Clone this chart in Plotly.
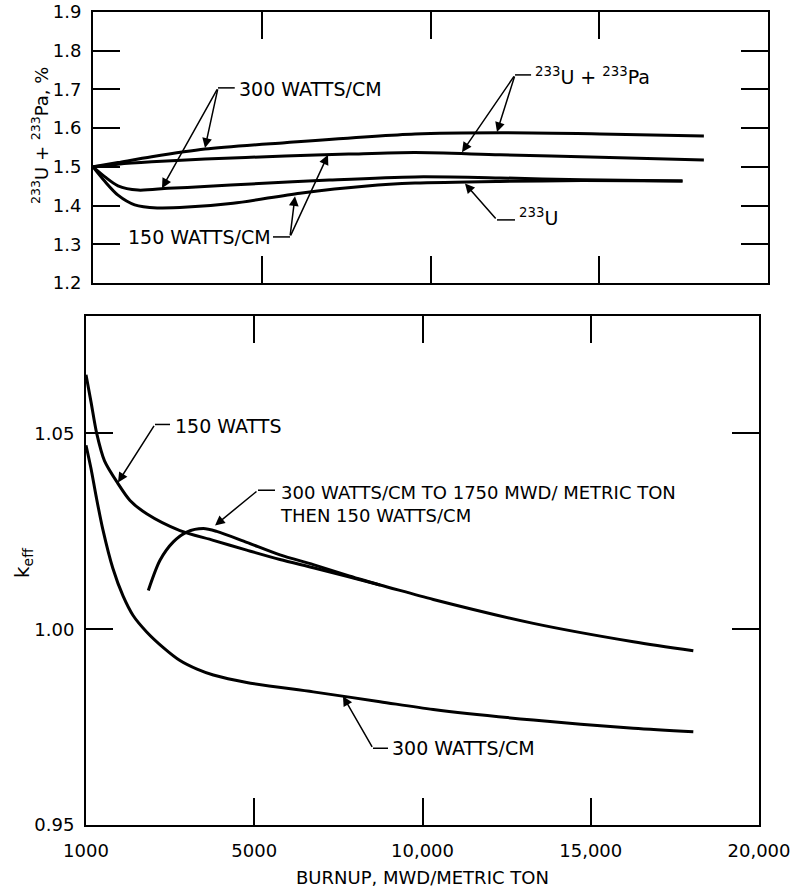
import plotly.graph_objects as go

# ---------------- data (burnup in MWD/metric ton) ----------------
# top panel: 233U + 233Pa, %
x_pa300 = [0, 740, 1739, 3318, 5689, 9541, 12059, 15022, 18100]
y_pa300 = [1.500, 1.511, 1.526, 1.546, 1.5625, 1.585, 1.588, 1.585, 1.580]

x_pa150 = [0, 740, 1739, 3318, 5689, 7575, 9541, 12059, 15022, 18100]
y_pa150 = [1.500, 1.507, 1.513, 1.520, 1.528, 1.533, 1.537, 1.531, 1.525, 1.518]

x_u300 = [0, 356, 740, 1333, 2222, 3300, 4689, 7000, 9541, 12059, 14500, 17467]
y_u300 = [1.500, 1.474, 1.451, 1.440, 1.4445, 1.449, 1.456, 1.466, 1.474, 1.4715, 1.4665, 1.4636]

x_u150 = [0, 356, 740, 1235, 1900, 2800, 4150, 6133, 8118, 9541, 12059, 14500, 17467]
y_u150 = [1.500, 1.462, 1.427, 1.402, 1.394, 1.396, 1.406, 1.432, 1.4506, 1.458, 1.4625, 1.4645, 1.4636]

# bottom panel: k_eff
x_k150 = [0, 150, 318, 550, 951, 1308, 1803, 2793, 3784, 4776, 5765, 6755, 7747, 8737, 10321, 13294, 16266, 18048]
y_k150 = [1.065, 1.058, 1.050, 1.043, 1.0372, 1.0329, 1.0295, 1.0252, 1.0227, 1.0202, 1.0178, 1.0157, 1.0135, 1.0113, 1.0076, 1.0015, 0.9968, 0.9945]

x_k300 = [0, 150, 300, 500, 800, 1100, 1400, 1803, 2298, 2793, 3300, 3784, 4776, 6755, 8737, 10321, 13294, 16266, 18048]
y_k300 = [1.047, 1.041, 1.034, 1.0255, 1.0155, 1.0085, 1.0035, 0.9993, 0.9953, 0.9920, 0.9898, 0.9883, 0.9864, 0.9840, 0.9815, 0.9795, 0.9768, 0.9747, 0.9738]

x_kswitch = [1852, 2199, 2595, 2992, 3487, 3883, 4776, 5765, 6755, 7747, 8737]
y_kswitch = [1.0099, 1.0176, 1.0223, 1.0248, 1.0257, 1.0250, 1.0222, 1.0190, 1.0165, 1.0138, 1.0113]

# ticks
x_tickvals = [0, 5000, 10000, 15000, 20000]
x_ticktext = ["1000", "5000", "10,000", "15,000", "20,000"]
top_tickvals = [1.2, 1.3, 1.4, 1.5, 1.6, 1.7, 1.8, 1.9]
top_ticktext = ["1.2", "1.3", "1.4", "1.5", "1.6", "1.7", "1.8", "1.9"]
bot_tickvals = [0.95, 1.00, 1.05]
bot_ticktext = ["0.95", "1.00", "1.05"]

# ---------------- figure ----------------
W, H = 803, 890
FONT = "DejaVu Sans"
FS = 18
FL = 19
line = dict(color="black", width=3, shape="spline", smoothing=0.8)

fig = go.Figure()
for xs, ys in [(x_pa300, y_pa300), (x_pa150, y_pa150), (x_u300, y_u300), (x_u150, y_u150)]:
    fig.add_trace(go.Scatter(x=xs, y=ys, mode="lines", line=line, xaxis="x", yaxis="y",
                             showlegend=False, hoverinfo="skip"))
for xs, ys in [(x_kswitch, y_kswitch), (x_k150, y_k150), (x_k300, y_k300)]:
    fig.add_trace(go.Scatter(x=xs, y=ys, mode="lines", line=line, xaxis="x2", yaxis="y2",
                             showlegend=False, hoverinfo="skip"))

def fx(p):
    return p / W

def fy(p):
    return 1 - p / H

axis_common = dict(showline=True, linecolor="black", linewidth=2, mirror="ticks",
                   ticks="inside", ticklen=27, tickwidth=1.5, tickcolor="black",
                   showgrid=False, zeroline=False, automargin=False,
                   ticklabeloverflow="allow",
                   tickfont=dict(family=FONT, size=FS, color="black"))

fig.update_layout(
    width=W, height=H,
    margin=dict(l=0, r=0, t=0, b=0, autoexpand=False),
    paper_bgcolor="white", plot_bgcolor="white",
    font=dict(family=FONT, size=FS, color="black"),
    xaxis=dict(domain=[fx(93), fx(768)], range=[0, 20000], anchor="y",
               tickvals=x_tickvals, showticklabels=False, **axis_common),
    yaxis=dict(domain=[fy(283), fy(12)], range=[1.2, 1.9], anchor="x",
               tickvals=top_tickvals, ticktext=top_ticktext, ticklabelstandoff=6, **axis_common),
    xaxis2=dict(domain=[fx(86), fx(759)], range=[0, 20000], anchor="y2",
                tickvals=x_tickvals, ticktext=x_ticktext, ticklabelstandoff=8, **axis_common),
    yaxis2=dict(domain=[fy(825), fy(316)], range=[0.95, 1.08], anchor="x2",
                tickvals=bot_tickvals, ticktext=bot_ticktext, ticklabelstandoff=6, **axis_common),
)

annotations = []
shapes = []

def label(xref, yref, x, y, text, xanchor="left", align="left", size=FL):
    annotations.append(dict(xref=xref, yref=yref, x=x, y=y, text=text, showarrow=False,
                            xanchor=xanchor, yanchor="middle", align=align,
                            font=dict(family=FONT, size=size, color="black")))

def leader(xref, yref, x0, x1, y):
    shapes.append(dict(type="line", xref=xref, yref=yref, x0=x0, x1=x1, y0=y, y1=y,
                       line=dict(color="black", width=1.5)))

def arrow(xref, yref, tail, tip):
    annotations.append(dict(xref=xref, yref=yref, axref=xref, ayref=yref,
                            x=tip[0], y=tip[1], ax=tail[0], ay=tail[1], text="",
                            showarrow=True, arrowhead=2, arrowsize=1.3, arrowwidth=1.5,
                            arrowcolor="black", standoff=0, startstandoff=0))

# top panel labels
label("x", "y", 4270, 1.701, "300 WATTS/CM")
leader("x", "y", 3704, 4200, 1.704)
arrow("x", "y", (3704, 1.704), (3318, 1.549))
arrow("x", "y", (3704, 1.704), (2044, 1.445))

label("x", "y", 5333, 1.319, "150 WATTS/CM", xanchor="right")
leader("x", "y", 5333, 5837, 1.319)
arrow("x", "y", (5837, 1.319), (5985, 1.424))
arrow("x", "y", (5837, 1.319), (6963, 1.531))

label("x", "y", 13037, 1.735, "<sup>233</sup>U + <sup>233</sup>Pa")
leader("x", "y", 12504, 12980, 1.7375)
arrow("x", "y", (12504, 1.7375), (11970, 1.590))
arrow("x", "y", (12504, 1.7375), (10933, 1.538))

label("x", "y", 12563, 1.370, "<sup>233</sup>U")
leader("x", "y", 11970, 12504, 1.363)
arrow("x", "y", (11970, 1.363), (11022, 1.457))

# bottom panel labels
label("x2", "y2", 2585, 1.052, "150 WATTS")
leader("x2", "y2", 2050, 2496, 1.0523)
arrow("x2", "y2", (2050, 1.0523), (951, 1.0375))

label("x2", "y2", 5706, 1.032, "300 WATTS/CM TO 1750 MWD/ METRIC TON<br>THEN 150 WATTS/CM", size=FS)
leader("x2", "y2", 5111, 5617, 1.0355)
arrow("x2", "y2", (5111, 1.0355), (3834, 1.0265))

label("x2", "y2", 9034, 0.9696, "300 WATTS/CM")
leader("x2", "y2", 8529, 8975, 0.9696)
arrow("x2", "y2", (8529, 0.9696), (7637, 0.9829))

# axis titles
annotations.append(dict(xref="paper", yref="paper", x=fx(40), y=fy(136),
                        text="<sup>233</sup>U + <sup>233</sup>Pa, %", textangle=-90,
                        showarrow=False, xanchor="center", yanchor="middle",
                        font=dict(family=FONT, size=FS, color="black")))
annotations.append(dict(xref="paper", yref="paper", x=fx(23), y=fy(563),
                        text="k<sub>eff</sub>", textangle=-90,
                        showarrow=False, xanchor="center", yanchor="middle",
                        font=dict(family=FONT, size=20, color="black")))
annotations.append(dict(xref="paper", yref="paper", x=fx(422), y=fy(877),
                        text="BURNUP, MWD/METRIC TON",
                        showarrow=False, xanchor="center", yanchor="middle",
                        font=dict(family=FONT, size=FS, color="black")))

fig.update_layout(annotations=annotations, shapes=shapes, hovermode=False)
fig.write_html("out.html", config={"displayModeBar": False},
               post_script="document.body.style.margin='0';")
